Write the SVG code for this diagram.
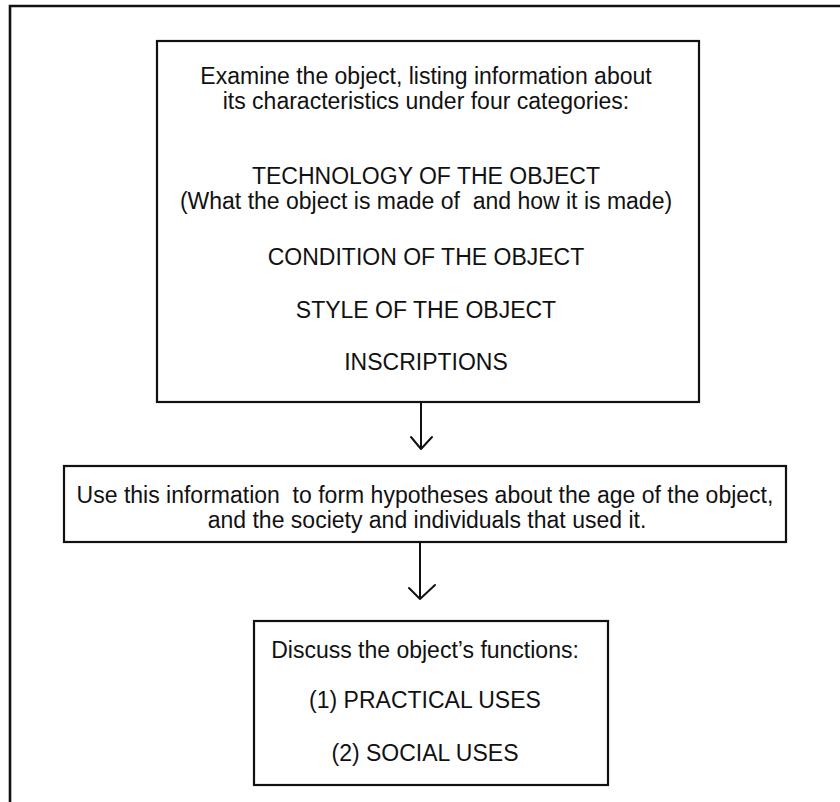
<svg xmlns="http://www.w3.org/2000/svg" width="840" height="802" viewBox="0 0 840 802">
<style>
  .box { fill: #ffffff; stroke: #111111; stroke-width: 2.2; }
  .frame { fill: none; stroke: #111111; stroke-width: 2.6; }
  .t { font-family: "Liberation Sans", Arial, Helvetica, sans-serif; font-size: 23px; fill: #111111; text-anchor: middle; white-space: pre; }
  .conn { fill: none; stroke: #111111; stroke-width: 2; stroke-linecap: round; stroke-linejoin: round; }
</style>
<rect x="0" y="0" width="840" height="802" fill="#ffffff"/>
<path class="frame" d="M10,802 V6 H840"/>

<g id="node-examine">
  <rect class="box" x="157" y="41" width="542" height="361"/>
  <text class="t" x="426" y="84">Examine the object, listing information about</text>
  <text class="t" x="426" y="109">its characteristics under four categories:</text>
  <text class="t" x="426" y="184">TECHNOLOGY OF THE OBJECT</text>
  <text class="t" x="426" y="209" xml:space="preserve">(What the object is made of  and how it is made)</text>
  <text class="t" x="426" y="265">CONDITION OF THE OBJECT</text>
  <text class="t" x="426" y="318">STYLE OF THE OBJECT</text>
  <text class="t" x="426" y="370">INSCRIPTIONS</text>
</g>

<g id="node-hypotheses">
  <rect class="box" x="64" y="466" width="722" height="76"/>
  <text class="t" x="425" y="503" xml:space="preserve">Use this information  to form hypotheses about the age of the object,</text>
  <text class="t" x="427" y="528">and the society and individuals that used it.</text>
</g>

<g id="node-functions">
  <rect class="box" x="254" y="621" width="354" height="164"/>
  <text class="t" x="425" y="658">Discuss the object’s functions:</text>
  <text class="t" x="425" y="708">(1) PRACTICAL USES</text>
  <text class="t" x="425" y="761">(2) SOCIAL USES</text>
</g>

<g id="connectors">
  <path class="conn" d="M421,403 V449 M411,437 L421,449 L432,437"/>
  <path class="conn" d="M420,543 V599 M409,588 L420,599 L435,585"/>
</g>
</svg>
